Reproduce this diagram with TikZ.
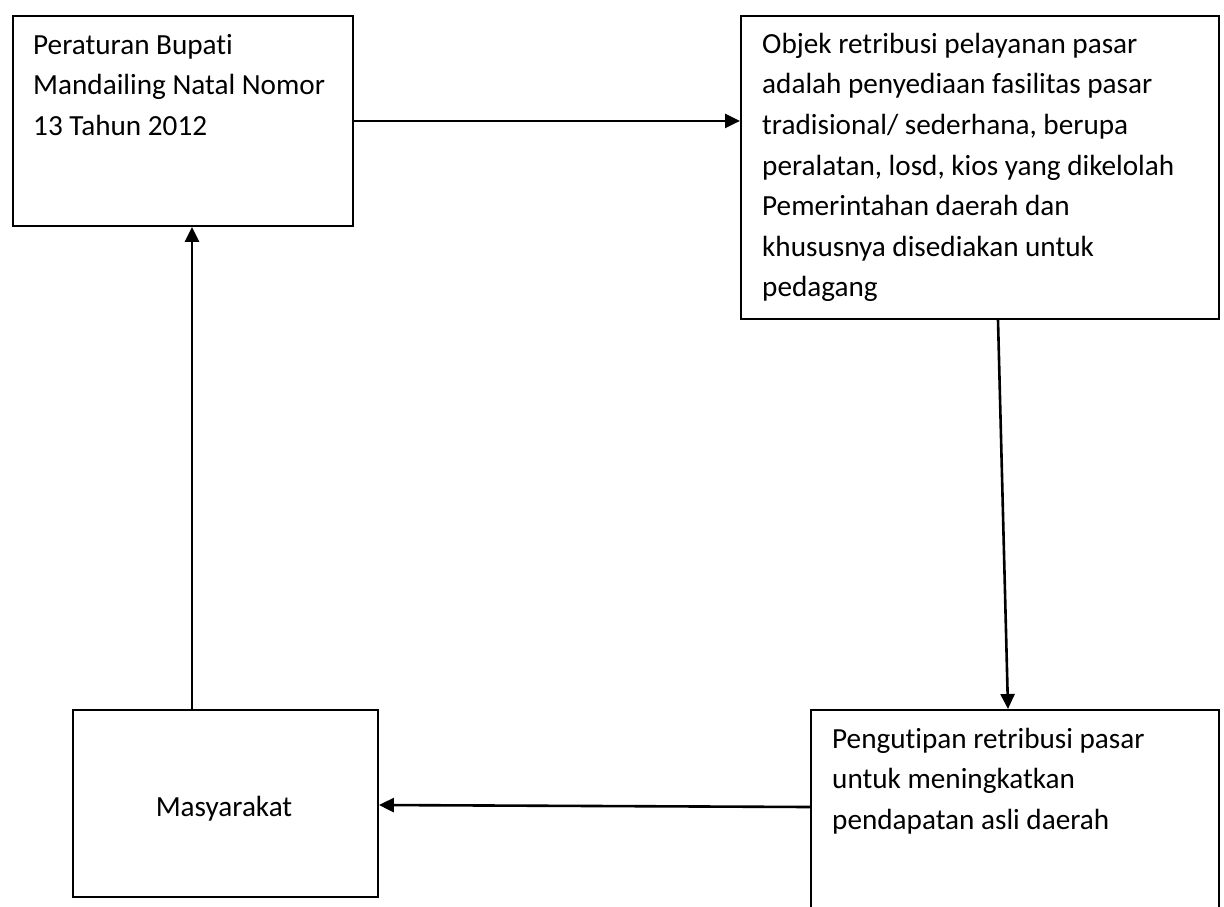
\documentclass[tikz,border=0pt]{standalone}
\usepackage{fontspec}
\setmainfont{Carlito}[RawFeature=-liga]
\usetikzlibrary{arrows.meta}
\newcommand{\firstline}{\rule{0pt}{24pt}}
\tikzset{
  box/.style={draw, line width=1.9pt, inner sep=0pt, anchor=north west},
  txt/.style={inner sep=0pt, align=left, font=\fontsize{29.2}{40.6}\selectfont},
  conn/.style={line width=2.6pt, -{Triangle[length=15pt,width=14pt]}},
}
\begin{document}
\begin{tikzpicture}[x=1pt,y=-1pt]
\useasboundingbox (0,0) rectangle (1224,906);
\clip (0,0) rectangle (1224,906);
% boxes
\node[box, minimum width=340pt, minimum height=210pt] (A) at (12,15) {};
\node[box, minimum width=478pt, minimum height=303pt] (B) at (740,15) {};
\node[box, minimum width=408pt, minimum height=230pt] (C) at (810,709) {};
\node[box, minimum width=305pt, minimum height=187pt] (D) at (72,709) {};
% texts
\node[txt, anchor=north west] (At) at (33,30) {\firstline Peraturan Bupati\\Mandailing Natal Nomor\\13 Tahun 2012};
\node[txt, anchor=north west] (Bt) at (762,29) {\firstline Objek retribusi pelayanan pasar\\adalah penyediaan fasilitas pasar\\tradisional/ sederhana, berupa\\peralatan, losd, kios yang dikelolah\\Pemerintahan daerah dan\\khususnya disediakan untuk\\pedagang};
\node[txt, anchor=north west] (Ct) at (832,724) {\firstline Pengutipan retribusi pasar\\untuk meningkatkan\\pendapatan asli daerah};
\node[txt, anchor=base] (Dt) at (224,816) {Masyarakat};
% connectors
\draw[conn] (A.east) -- (A.east -| B.west);
\draw[conn] ([xshift=258pt]B.south west) -- ([xshift=198pt]C.north west);
\draw[conn] ([yshift=-98pt]C.north west) -- ([yshift=-96pt]D.north east);
\draw[conn] ([xshift=120pt]D.north west) -- ([xshift=120pt]D.north west |- A.south);
\end{tikzpicture}
\end{document}
